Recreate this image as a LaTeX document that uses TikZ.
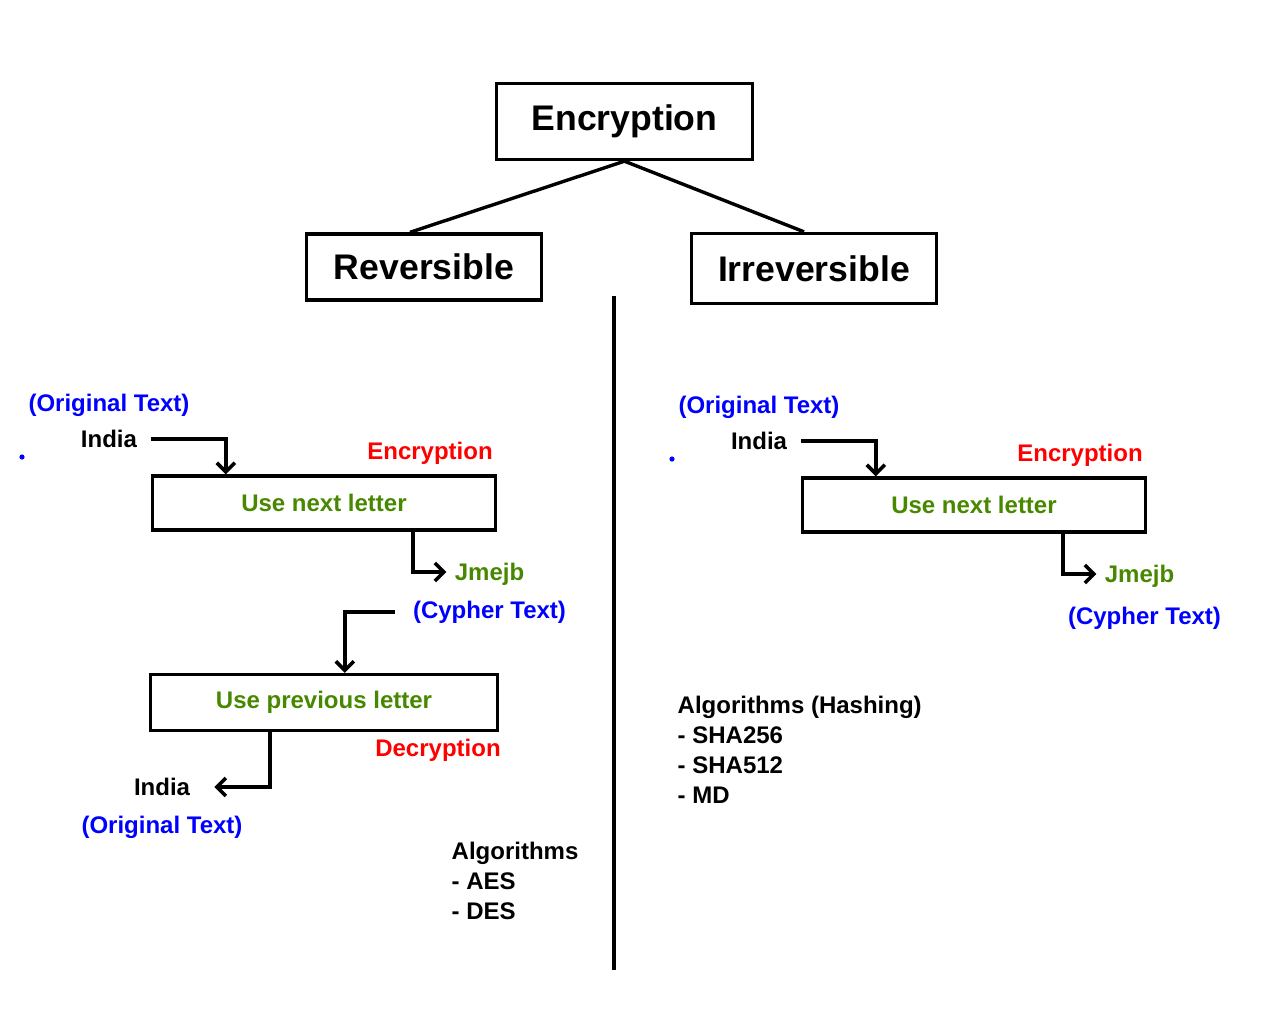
\documentclass[tikz,border=0pt]{standalone}
\usepackage{fontspec}
\setmainfont{Liberation Sans}
\usetikzlibrary{arrows.meta,positioning}
\definecolor{leafgreen}{RGB}{72,136,0}

\begin{document}
\begin{tikzpicture}[x=0.5pt, y=-0.5pt, line width=1.7pt, on grid,
  >={Straight Barb[length=4.5pt,width=9pt,line width=1.8pt]},
  bigbox/.style={draw, font=\fontsize{17.8}{20}\selectfont\bfseries},
  rulebox/.style={draw, minimum width=171.5pt, minimum height=27pt, text=leafgreen, font=\fontsize{12}{15}\selectfont\bfseries},
  word/.style={font=\fontsize{12}{15}\selectfont\bfseries},
  plain/.style={word, text=black},
  orig/.style={word, text=blue},
  cyph/.style={word, text=leafgreen},
  mode/.style={word, text=red}]
  \useasboundingbox (0,0) rectangle (1280,1024);

  % tree
  \node[bigbox, minimum width=128pt, minimum height=38pt] (enc) at (624.5,121.5) {Encryption};
  \node[bigbox, minimum width=117.5pt, minimum height=33pt] (rev) at (424,267) {Reversible};
  \node[bigbox, minimum width=122.5pt, minimum height=35pt] (irr) at (814,268.5) {Irreversible};
  \draw (enc.south) -- ([xshift=-7pt]rev.north);
  \draw (enc.south) -- ([xshift=-5pt]irr.north);

  \draw (614,296) -- (614,970);

  % reversible side
  \node[plain] (indiaL) at (109,439) {India};
  \node[orig] (origL) [above=17pt of indiaL] {(Original Text)};
  \fill[blue] (22,457) circle (1.3pt);
  \node[mode] (encL) at (430,453) {Encryption};
  \node[rulebox] (nextL) at (324,503) {Use next letter};
  \node[cyph] (jmejbL) at (489.5,574) {Jmejb};
  \node[orig] (cypherL) [below=19pt of jmejbL] {(Cypher Text)};
  \node[rulebox, minimum width=173.5pt, minimum height=28pt] (prevD) at (324,702.5) {Use previous letter};
  \node[mode] (decD) at (438,750) {Decryption};
  \node[plain] (indiaD) at (162,787) {India};
  \node[orig] (origD) [below=20pt of indiaD] {(Original Text)};
  \node[word, align=left, anchor=north west, inner sep=0pt] (algL) at (450,840)
    {Algorithms\\- AES\\- DES};

  \draw[->] ([xshift=3pt]indiaL.east) -| ([xshift=37.5pt]nextL.north west);
  \draw[->] ([xshift=131pt]nextL.south west) |- ([yshift=1pt]jmejbL.west);
  \draw[->] ([xshift=-5pt]cypherL.west) -| ([xshift=98pt]prevD.north west);
  \draw[->] ([xshift=60.5pt]prevD.south west) |- ([xshift=8pt]indiaD.east);

  % irreversible side
  \node[plain] (indiaR) at (759,441) {India};
  \node[orig] (origR) [above=17pt of indiaR] {(Original Text)};
  \fill[blue] (672,459) circle (1.3pt);
  \node[mode] (encR) at (1080,455) {Encryption};
  \node[rulebox] (nextR) at (974,505) {Use next letter};
  \node[cyph] (jmejbR) at (1139.5,576) {Jmejb};
  \node[orig] (cypherR) [below right=21pt and 2.5pt of jmejbR] {(Cypher Text)};
  \node[word, align=left, anchor=north west, inner sep=0pt] (algR) at (676,694)
    {Algorithms (Hashing)\\- SHA256\\- SHA512\\- MD};

  \draw[->] ([xshift=3pt]indiaR.east) -| ([xshift=37.5pt]nextR.north west);
  \draw[->] ([xshift=131pt]nextR.south west) |- ([yshift=1pt]jmejbR.west);
\end{tikzpicture}
\end{document}
